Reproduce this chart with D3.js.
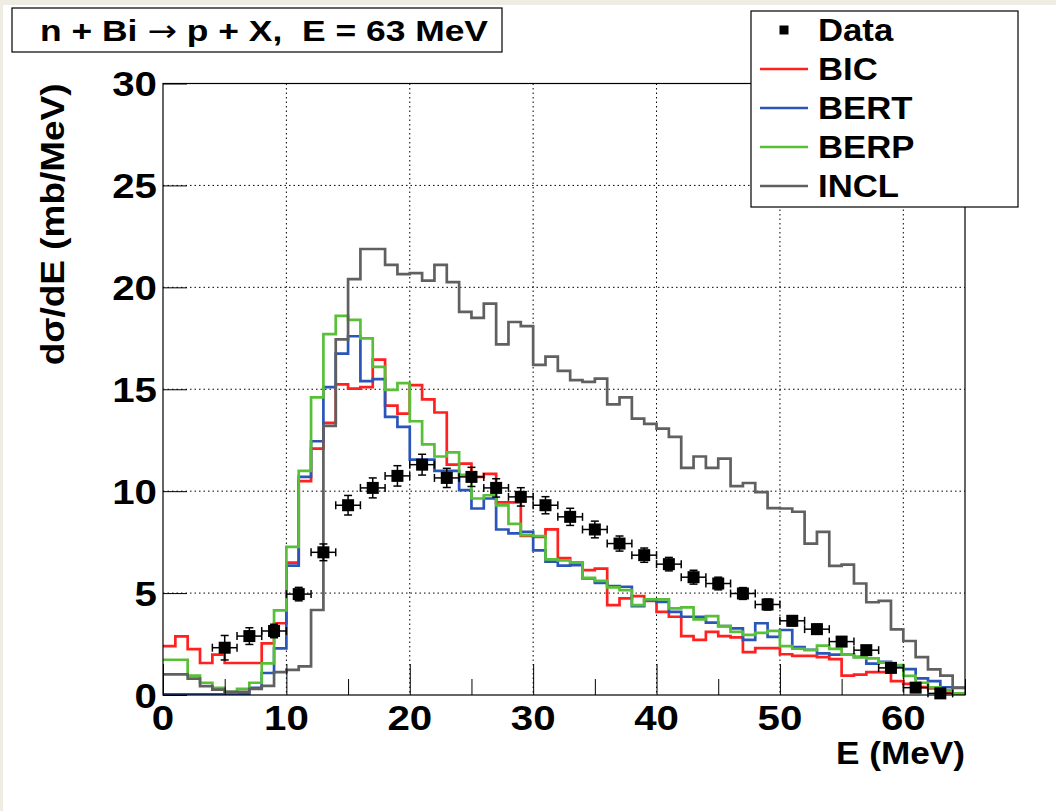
<!DOCTYPE html>
<html lang="en">
<head>
<meta charset="UTF-8">
<script src="https://cdn.jsdelivr.net/npm/d3@7"></script>
<title>n + Bi -> p + X</title>
<style>
    body { margin: 0; background: #ffffff; }
    svg text { font-family: 'Liberation Sans', Arial, Helvetica, sans-serif; font-weight: bold; fill: #000; }
</style>
</head>
<body>
<svg id="chart" width="1056" height="811"></svg>
<script>
    // 1 MeV bins, 0..65 MeV
    const bic = [2.40, 2.88, 2.25, 1.57, 1.98, 1.57, 1.57, 1.57, 2.53, 3.52,
        6.49, 10.49, 12.09, 13.35, 15.24, 15.03, 15.1, 16.45, 14.2, 13.8,
        15.2, 14.5, 13.86, 11.3, 11.35, 10.7, 10.85, 9.45, 9.45, 7.8,
        7.76, 8.13, 6.72, 6.5, 6.13, 6.2, 4.41, 4.74, 4.85, 4.62,
        4.08, 3.84, 2.89, 2.7, 3.1, 2.89, 2.83, 2.1, 2.3, 2.3,
        2.0, 1.92, 1.92, 1.86, 1.76, 0.95, 1.0, 1.12, 1.12, 0.68,
        0.55, 0.39, 0.32, 0.1, 0.05];
    const bert = [0.03, 0.03, 0.03, 0.03, 0.03, 0.03, 0.05, 0.35, 1.08, 2.29,
        6.35, 10.7, 12.45, 15.1, 16.75, 17.6, 15.4, 15.5, 13.64, 13.15,
        11.55, 11.55, 11.0, 11.0, 10.05, 9.15, 9.64, 8.12, 7.93, 8.0,
        7.1, 6.54, 6.35, 6.37, 5.72, 5.5, 5.34, 5.31, 4.36, 4.66,
        4.57, 4.08, 3.84, 3.84, 3.55, 3.38, 3.27, 2.7, 3.52, 2.85,
        3.19, 2.35, 2.22, 2.04, 1.98, 1.98, 1.87, 1.54, 1.63, 1.39,
        1.27, 0.82, 0.68, 0.38, 0.35];
    const berp = [1.73, 1.73, 0.95, 0.6, 0.35, 0.15, 0.3, 0.6, 1.55, 4.15,
        7.27, 11.0, 14.6, 17.7, 18.6, 18.4, 17.5, 16.1, 14.97, 15.3,
        13.43, 12.3, 11.7, 11.9, 10.8, 9.64, 9.8, 9.3, 8.4, 7.84,
        7.8, 6.65, 6.6, 6.5, 5.75, 5.6, 5.28, 5.15, 4.41, 4.69,
        4.69, 4.25, 4.3, 3.71, 3.87, 3.38, 3.1, 2.95, 3.05, 3.15,
        2.4, 2.27, 2.2, 2.42, 2.26, 1.98, 1.85, 1.8, 1.59, 1.47,
        0.94, 0.6, 0.38, 0.23, 0.08];
    const incl = [1.01, 1.01, 0.8, 0.44, 0.26, 0.16, 0.16, 0.3, 0.45, 1.12,
        1.23, 1.4, 4.17, 13.2, 17.45, 20.4, 21.88, 21.88, 21.1, 20.65,
        20.7, 20.33, 21.1, 20.26, 18.8, 18.5, 19.2, 17.2, 18.3, 18.1,
        16.2, 16.6, 15.9, 15.45, 15.36, 15.52, 14.26, 14.6, 13.56, 13.3,
        13.07, 12.66, 11.14, 11.7, 11.14, 11.6, 10.25, 10.4, 9.95, 9.17,
        9.15, 8.99, 7.43, 8.0, 6.33, 6.4, 5.47, 4.55, 4.62, 3.22,
        2.65, 1.86, 1.26, 0.95, 0.36];

    // measured points (2 MeV bins)
    const dataE = [5, 7, 9, 11, 13, 15, 17, 19, 21, 23, 25, 27, 29, 31, 33,
        35, 37, 39, 41, 43, 45, 47, 49, 51, 53, 55, 57, 59, 61, 63];
    const dataY = [2.32, 2.89, 3.14, 4.95, 7.0, 9.31, 10.16, 10.75, 11.3, 10.65,
        10.7, 10.16, 9.72, 9.31, 8.74, 8.12, 7.43, 6.86, 6.42, 5.78,
        5.47, 4.98, 4.44, 3.64, 3.23, 2.62, 2.2, 1.33, 0.36, 0.08];
    const dataErr = [0.6, 0.41, 0.33, 0.33, 0.41, 0.48, 0.49, 0.5, 0.51, 0.47,
        0.47, 0.45, 0.45, 0.42, 0.42, 0.41, 0.37, 0.35, 0.33, 0.34,
        0.31, 0.29, 0.27, 0.25, 0.24, 0.22, 0.2, 0.2, 0.15, 0.1];
    const halfBin = 1;

    const seriesNames = ["BIC", "BERT", "BERP", "INCL"];
    const seriesColors = ["#ff2020", "#2a56b8", "#58c038", "#606060"];
    const seriesValues = [bic, bert, berp, incl];

    const xTicks = [0, 10, 20, 30, 40, 50, 60];
    const xMinor = [5, 15, 25, 35, 45, 55, 65];
    const yTicks = [0, 5, 10, 15, 20, 25, 30];

    const svg = d3.select("#chart");

    // the ROOT canvas text looks wider than Liberation at the same height
    function wideText(g, px, py, str, size, sx, anchor, rot) {
        return g.append("text")
            .attr("transform", `translate(${px},${py})` + (rot ? ` rotate(${rot})` : "") + ` scale(${sx},1)`)
            .attr("text-anchor", anchor || "start")
            .style("font-size", size + "px")
            .text(str);
    }

    // pad border like the screenshot
    svg.append("rect").attr("width", 1056).attr("height", 811).attr("fill", "#efece3");
    svg.append("rect").attr("x", 3).attr("y", 5).attr("width", 1053).attr("height", 806).attr("fill", "#ffffff");

    const pL = 163, pR = 965, pT = 83.5, pB = 695;
    const x = d3.scaleLinear().domain([0, 65]).range([pL, pR]);
    const y = d3.scaleLinear().domain([0, 30]).range([pB, pT]);

    svg.append("clipPath").attr("id", "plotclip")
        .append("rect").attr("x", pL).attr("y", pT)
        .attr("width", pR - pL).attr("height", pB - pT);

    // grid
    const grid = svg.append("g").attr("stroke", "#000").attr("stroke-width", 1)
        .attr("stroke-dasharray", "1.5,3");
    grid.selectAll("line.gx").data(xTicks.filter(d => d > 0))
        .enter().append("line")
        .attr("x1", d => x(d)).attr("x2", d => x(d))
        .attr("y1", pT).attr("y2", pB);
    grid.selectAll("line.gy").data(yTicks.filter(d => d > 0 && d < 30))
        .enter().append("line")
        .attr("x1", pL).attr("x2", pR)
        .attr("y1", d => y(d)).attr("y2", d => y(d));

    // histograms
    const step = d3.line()
        .x(d => x(d[0]))
        .y(d => y(d[1]))
        .curve(d3.curveStepAfter);

    const plot = svg.append("g").attr("clip-path", "url(#plotclip)");
    seriesValues.forEach((vals, k) => {
        const pts = vals.map((v, i) => [i, v]);
        pts.push([vals.length, vals[vals.length - 1]]);
        plot.append("path")
            .attr("d", step(pts))
            .attr("fill", "none")
            .attr("stroke", seriesColors[k])
            .attr("stroke-width", 2.7);
    });

    // data points with error bars
    const pts = dataE.map((e, i) => ({ e: e, v: dataY[i], err: dataErr[i] }));
    const eg = svg.append("g").attr("stroke", "#000").attr("stroke-width", 1.5);
    pts.forEach(p => {
        const cx = x(p.e), cy = y(p.v);
        eg.append("line").attr("x1", x(p.e - halfBin)).attr("x2", x(p.e + halfBin)).attr("y1", cy).attr("y2", cy);
        eg.append("line").attr("x1", x(p.e - halfBin)).attr("x2", x(p.e - halfBin)).attr("y1", cy - 4).attr("y2", cy + 4);
        eg.append("line").attr("x1", x(p.e + halfBin)).attr("x2", x(p.e + halfBin)).attr("y1", cy - 4).attr("y2", cy + 4);
        eg.append("line").attr("x1", cx).attr("x2", cx).attr("y1", y(p.v + p.err)).attr("y2", y(p.v - p.err));
        eg.append("line").attr("x1", cx - 4).attr("x2", cx + 4).attr("y1", y(p.v + p.err)).attr("y2", y(p.v + p.err));
        eg.append("line").attr("x1", cx - 4).attr("x2", cx + 4).attr("y1", y(p.v - p.err)).attr("y2", y(p.v - p.err));
    });
    svg.append("g").selectAll("rect").data(pts).enter().append("rect")
        .attr("x", d => x(d.e) - 6).attr("y", d => y(d.v) - 6)
        .attr("width", 12).attr("height", 12).attr("fill", "#000");

    // axes (ticks only, labels drawn wide below)
    svg.append("g").attr("transform", `translate(0,${pB})`)
        .call(d3.axisBottom(x).tickValues(xTicks).tickSize(-31).tickFormat(""));
    svg.append("g").attr("transform", `translate(0,${pB})`)
        .call(d3.axisBottom(x).tickValues(xMinor).tickSize(-16).tickFormat(""));
    svg.append("g").attr("transform", `translate(${pL},0)`)
        .call(d3.axisLeft(y).tickValues(yTicks).tickSize(-24).tickFormat(""));
    svg.selectAll(".domain").remove();
    svg.selectAll(".tick line").attr("stroke", "#000").attr("stroke-width", 1);

    const labels = svg.append("g");
    xTicks.forEach(t => wideText(labels, x(t), pB + 35, d3.format("d")(t), 35, 1.15, "middle"));
    yTicks.forEach(t => wideText(labels, pL - 6, y(t) + 12.5, d3.format("d")(t), 35, 1.15, "end"));

    // frame
    svg.append("rect").attr("x", pL).attr("y", pT)
        .attr("width", pR - pL).attr("height", pB - pT)
        .attr("fill", "none").attr("stroke", "#000").attr("stroke-width", 1.2);

    // axis titles
    wideText(svg, pR, 764, "E (MeV)", 32, 1.1, "end");
    wideText(svg, 64, pT, "dσ/dE (mb/MeV)", 33, 1.12, "end", -90);

    // title box
    svg.append("rect").attr("x", 12).attr("y", 8).attr("width", 490).attr("height", 44)
        .attr("fill", "#fff").attr("stroke", "#000").attr("stroke-width", 1.2);
    const title = svg.append("text").attr("x", 40).attr("y", 41)
        .attr("textLength", 448).attr("lengthAdjust", "spacingAndGlyphs")
        .style("font-size", "30px").attr("xml:space", "preserve");
    title.append("tspan").text("n + Bi ");
    title.append("tspan").style("font-family", "'DejaVu Sans', sans-serif")
        .style("font-weight", "normal").text("\u2192");
    title.append("tspan").text(" p + X,  E = 63 MeV");

    // legend
    const legend = svg.append("g");
    legend.append("rect").attr("x", 751).attr("y", 11).attr("width", 267).attr("height", 196)
        .attr("fill", "#fff").attr("stroke", "#000").attr("stroke-width", 1.2);
    const legendNames = ["Data"].concat(seriesNames);
    const rowY = d3.scalePoint().domain(legendNames).range([30, 186]);
    legend.append("rect").attr("x", 779.5).attr("y", rowY("Data") - 4.5).attr("width", 9).attr("height", 9).attr("fill", "#000");
    seriesNames.forEach((n, k) => {
        legend.append("line").attr("x1", 760).attr("x2", 808)
            .attr("y1", rowY(n)).attr("y2", rowY(n))
            .attr("stroke", seriesColors[k]).attr("stroke-width", 2.4);
    });
    legendNames.forEach(n => wideText(legend, 818, rowY(n) + 11, n, 31, 1.12, "start"));
</script>
</body>
</html>
